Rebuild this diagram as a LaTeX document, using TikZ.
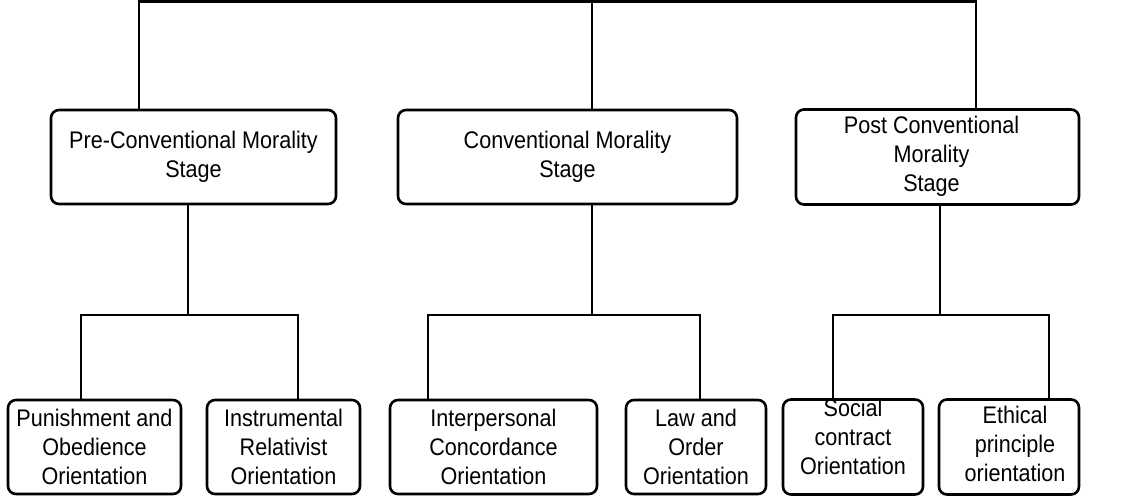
\documentclass[tikz,border=0pt]{standalone}
\usepackage{fontspec}
\setmainfont{Liberation Sans}[FakeStretch=0.9]
\usetikzlibrary{positioning}

\tikzset{
    stagebox/.style={draw, rounded corners=4pt, line width=1.3pt, align=center,
        minimum height=47pt, inner sep=2pt,
        font=\fontsize{12}{14.5}\selectfont},
    orientbox/.style={stagebox, minimum width=70pt},
    link/.style={line width=1.3pt}
}

\begin{document}
\begin{tikzpicture}[x=0.5pt,y=-0.5pt]
        \useasboundingbox (0,0) rectangle (1144,500);

        % Stadi di moralita
        \node[stagebox, minimum width=142.5pt] (pre)  at (193.5,157) {Pre-Conventional Morality\\Stage};
        \node[stagebox, minimum width=169.5pt] (conv) at (567.5,157) {Conventional Morality\\Stage};
        \node[stagebox, minimum width=141.5pt] (post) at (937.5,157) {\begin{tabular}{@{}c@{}}Post Conventional\\Morality\\Stage\end{tabular}\hspace*{6pt}};

        % Orientamenti
        \node[orientbox, minimum width=86.5pt]  (punish) at (94.5,447)  {Punishment and\\Obedience\\Orientation};
        \node[orientbox, minimum width=76.5pt]  (instr)  at (283.5,447) {Instrumental\\Relativist\\Orientation};
        \node[orientbox, minimum width=103.5pt] (inter)  at (493.5,447) {Interpersonal\\Concordance\\Orientation};
        \node[orientbox] (law)    at (696,447)  {Law and\\Order\\Orientation};
        \node[orientbox] (social) at (853,447)  {\raisebox{3.5pt}[\height][\depth]{\begin{tabular}{@{}c@{}}Social\\contract\\Orientation\end{tabular}}};
        \node[orientbox] (ethic)  at (1009,447) {\hspace*{6pt}\begin{tabular}{@{}c@{}}Ethical\\principle\\orientation\end{tabular}};

        % Linea in alto
        \coordinate (top1) at (139,1.5);
        \coordinate (top2) at (592,1.5);
        \coordinate (top3) at (976,1.5);
        \draw[link] (top1 |- pre.north) -- (top1) -- (top3) -- (top3 |- post.north);
        \draw[link] (top2) -- (top2 |- conv.north);

        % Rami verso il basso
        \coordinate (j1) at (188,315);
        \coordinate (j2) at (592,315);
        \coordinate (j3) at (940,315);
        \coordinate (j1l) at (81,315);   \coordinate (j1r) at (298,315);
        \coordinate (j2l) at (428,315);  \coordinate (j2r) at (700,315);
        \coordinate (j3l) at (833,315);  \coordinate (j3r) at (1049,315);

        \draw[link] (pre.south -| j1) -- (j1);
        \draw[link] (conv.south -| j2) -- (j2);
        \draw[link] (post.south -| j3) -- (j3);

        \draw[link] (punish.north -| j1l) -- (j1l) -- (j1r) -- (instr.north -| j1r);
        \draw[link] (inter.north -| j2l) -- (j2l) -- (j2r) -- (law.north -| j2r);
        \draw[link] (social.north -| j3l) -- (j3l) -- (j3r) -- (ethic.north -| j3r);

\end{tikzpicture}
\end{document}
